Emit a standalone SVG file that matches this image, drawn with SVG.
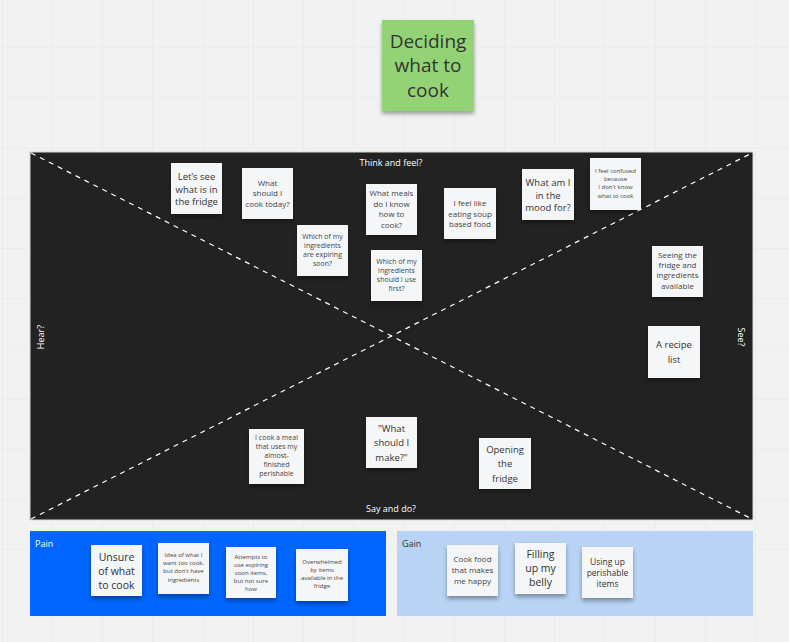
<svg xmlns="http://www.w3.org/2000/svg" width="789" height="642" viewBox="0 0 789 642">
<defs>
<pattern id="grid" x="2" y="-3" width="50.2" height="50.2" patternUnits="userSpaceOnUse">
<path d="M0 0V50.2M0 0H50.2" fill="none" stroke="#e6e6e6" stroke-width="1"/>
</pattern>
<filter id="sh" x="-20%" y="-20%" width="140%" height="150%">
<feDropShadow dx="0" dy="3" stdDeviation="2" flood-color="#000" flood-opacity="0.35"/>
</filter>
</defs>
<style>
.note{fill:#f5f6f8;filter:url(#sh)}
.t{font-family:"Open Sans","Noto Sans","Liberation Sans",sans-serif;fill:#333;text-anchor:middle}
.lbl{font-family:"Open Sans","Noto Sans","Liberation Sans",sans-serif;fill:#fff;font-size:9px;text-anchor:middle}
.diag{stroke:#fff;stroke-width:1.2;stroke-dasharray:5 5;fill:none}
.s6{font-size:6px;fill:#444}
.s7{font-size:7px;fill:#444}
.s8{font-size:8px;fill:#444}
.s10{font-size:9.5px}
.s11{font-size:10.5px}
</style>
<rect width="789" height="642" fill="#f2f2f2"/>
<rect width="789" height="642" fill="url(#grid)"/>

<g id="title">
<rect x="382" y="20" width="92" height="91" fill="#93d375" filter="url(#sh)"/>
<text class="t" font-size="19" x="428" y="48">Deciding</text>
<text class="t" font-size="19" x="428" y="72">what to</text>
<text class="t" font-size="19" x="428" y="97">cook</text>
</g>

<g id="empathy-map">
<rect x="30" y="152" width="723" height="368" fill="#222" stroke="#d8d8d8" stroke-width="1"/>
<text class="lbl" x="391" y="166">Think and feel?</text>
<text class="lbl" x="391" y="512">Say and do?</text>
<text class="lbl" transform="translate(44 337) rotate(-90)">Hear?</text>
<text class="lbl" transform="translate(738 337) rotate(90)">See?</text>
</g>

<g id="connectors">
<line class="diag" x1="31" y1="153" x2="752" y2="519"/>
<line class="diag" x1="31" y1="519" x2="752" y2="153"/>
</g>

<g id="n1"><rect class="note" x="171" y="163" width="51" height="51"/>
<text class="t s10" x="196.5" y="180">Let’s see</text><text class="t s10" x="196.5" y="192.5">what is in</text><text class="t s10" x="196.5" y="205">the fridge</text></g>

<g id="n2"><rect class="note" x="242" y="168" width="51" height="51"/>
<text class="t s8" x="267.5" y="186">What</text><text class="t s8" x="267.5" y="196">should I</text><text class="t s8" x="267.5" y="207">cook today?</text></g>

<g id="n3"><rect class="note" x="297" y="225" width="51" height="51"/>
<text class="t s7" x="322.5" y="239">Which of my</text><text class="t s7" x="322.5" y="248">ingredients</text><text class="t s7" x="322.5" y="257">are expiring</text><text class="t s7" x="322.5" y="266">soon?</text></g>

<g id="n4"><rect class="note" x="366" y="184" width="51" height="51"/>
<text class="t s8" x="391.5" y="196">What meals</text><text class="t s8" x="391.5" y="207">do I know</text><text class="t s8" x="391.5" y="217">how to</text><text class="t s8" x="391.5" y="228">cook?</text></g>

<g id="n5"><rect class="note" x="371" y="250" width="51" height="51"/>
<text class="t s7" x="396.5" y="264">Which of my</text><text class="t s7" x="396.5" y="273">ingredients</text><text class="t s7" x="396.5" y="282">should I use</text><text class="t s7" x="396.5" y="291">first?</text></g>

<g id="n6"><rect class="note" x="444" y="188" width="52" height="51"/>
<text class="t s8" x="470" y="206">I feel like</text><text class="t s8" x="470" y="217">eating soup</text><text class="t s8" x="470" y="227">based food</text></g>

<g id="n7"><rect class="note" x="522" y="169" width="52" height="51"/>
<text class="t s10" x="548" y="185.5">What am I</text><text class="t s10" x="548" y="198.5">in the</text><text class="t s10" x="548" y="211">mood for?</text></g>

<g id="n8"><rect class="note" x="590" y="158" width="51" height="52"/>
<text class="t s6" x="615.5" y="173">I feel confused</text><text class="t s6" x="615.5" y="181">because</text><text class="t s6" x="615.5" y="189">I don't know</text><text class="t s6" x="615.5" y="198">what to cook</text></g>

<g id="n9"><rect class="note" x="652" y="246" width="51" height="51"/>
<text class="t s8" x="677.5" y="258">Seeing the</text><text class="t s8" x="677.5" y="268">fridge and</text><text class="t s8" x="677.5" y="278">ingredients</text><text class="t s8" x="677.5" y="289">available</text></g>

<g id="n10"><rect class="note" x="648" y="326" width="52" height="52"/>
<text class="t s10" x="674" y="348">A recipe</text><text class="t s10" x="674" y="363">list</text></g>

<g id="n11"><rect class="note" x="249" y="429" width="55" height="55"/>
<text class="t s7" x="276.5" y="440">I cook a meal</text><text class="t s7" x="276.5" y="449">that uses my</text><text class="t s7" x="276.5" y="458">almost-</text><text class="t s7" x="276.5" y="467">finished</text><text class="t s7" x="276.5" y="476">perishable</text></g>

<g id="n12"><rect class="note" x="366" y="417" width="51" height="51"/>
<text class="t s10" x="391.5" y="432">"What</text><text class="t s10" x="391.5" y="446">should I</text><text class="t s10" x="391.5" y="461">make?"</text></g>

<g id="n13"><rect class="note" x="479" y="438" width="52" height="51"/>
<text class="t s10" x="505" y="453">Opening</text><text class="t s10" x="505" y="467">the</text><text class="t s10" x="505" y="482">fridge</text></g>

<g id="pain">
<rect x="30" y="531" width="356" height="85" fill="#0066ff"/>
<text font-family="'Open Sans','Noto Sans','Liberation Sans',sans-serif" font-size="9" fill="#fff" x="35" y="547">Pain</text>
</g>

<g id="p1"><rect class="note" x="91" y="545" width="51" height="51"/>
<text class="t s11" x="116.5" y="561">Unsure</text><text class="t s11" x="116.5" y="575">of what</text><text class="t s11" x="116.5" y="589">to cook</text></g>

<g id="p2"><rect class="note" x="158" y="543" width="51" height="51"/>
<text class="t s6" x="183.5" y="557">Idea of what I</text><text class="t s6" x="183.5" y="565">want too cook,</text><text class="t s6" x="183.5" y="573">but don't have</text><text class="t s6" x="183.5" y="582">ingredients</text></g>

<g id="p3"><rect class="note" x="226" y="547" width="50" height="51"/>
<text class="t s6" x="251" y="559">Attempts to</text><text class="t s6" x="251" y="567">use expiring</text><text class="t s6" x="251" y="575">soon items,</text><text class="t s6" x="251" y="583">but not sure</text><text class="t s6" x="251" y="591">how</text></g>

<g id="p4"><rect class="note" x="296" y="549" width="52" height="52"/>
<text class="t s6" x="322" y="564">Overwhelmed</text><text class="t s6" x="322" y="572">by items</text><text class="t s6" x="322" y="580">available in the</text><text class="t s6" x="322" y="588">fridge</text></g>

<g id="gain">
<rect x="397" y="531" width="356" height="85" fill="#b9d3f4"/>
<text font-family="'Open Sans','Noto Sans','Liberation Sans',sans-serif" font-size="9" fill="#333" x="402" y="547">Gain</text>
</g>

<g id="g1"><rect class="note" x="447" y="545" width="51" height="51"/>
<text class="t s8" x="472.5" y="562">Cook food</text><text class="t s8" x="472.5" y="573">that makes</text><text class="t s8" x="472.5" y="584">me happy</text></g>

<g id="g2"><rect class="note" x="515" y="543" width="51" height="51"/>
<text class="t s11" x="540.5" y="558">Filling</text><text class="t s11" x="540.5" y="572">up my</text><text class="t s11" x="540.5" y="586">belly</text></g>

<g id="g3"><rect class="note" x="582" y="547" width="51" height="51"/>
<text class="t" font-size="8.5" fill="#444" x="607.5" y="565">Using up</text><text class="t" font-size="8.5" fill="#444" x="607.5" y="576">perishable</text><text class="t" font-size="8.5" fill="#444" x="607.5" y="587">items</text></g>
</svg>
